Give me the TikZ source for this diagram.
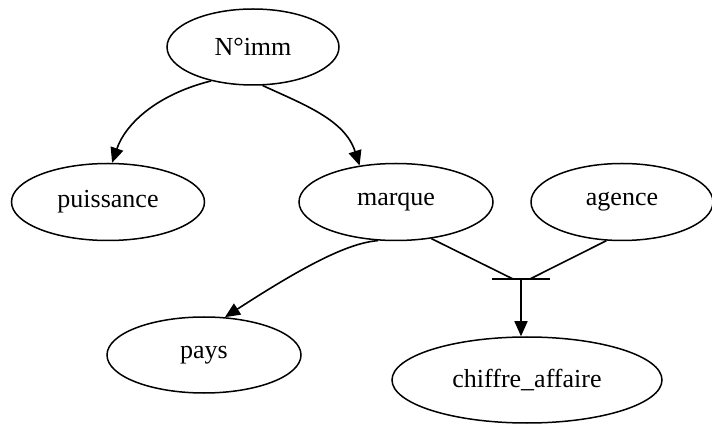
\documentclass[tikz,border=0pt]{standalone}
\usepackage{fontspec}
\setmainfont{Liberation Serif}
\usetikzlibrary{shapes.geometric,arrows.meta}
\begin{document}
\begin{tikzpicture}[x=1pt,y=-1pt,
  ent/.style={draw,ellipse,line width=1.5pt,inner sep=0pt,font=\fontsize{26}{30}\selectfont},
  conn/.style={line width=1.6pt},
  arr/.style={conn,-{Triangle[length=15pt,width=13pt]}}]
\useasboundingbox (0,0) rectangle (712,427);
\node[ent,minimum width=172pt,minimum height=76pt] (nimm) at (253,47) {N°imm};
\node[ent,minimum width=193pt,minimum height=77pt] (puis) at (108,202) {puissance};
\node[ent,minimum width=194pt,minimum height=77pt] (marque) at (396,202) {marque};
\node[ent,minimum width=182pt,minimum height=77pt] (agence) at (622,202) {agence};
\node[ent,minimum width=194pt,minimum height=76pt] (pays) at (204,355) {pays};
\node[ent,minimum width=270pt,minimum height=86pt] (chiffre) at (527,380) {chiffre\_affaire};
\coordinate (j) at (521,279);
\coordinate (jl) at (492,279);
\coordinate (jr) at (550,279);
\coordinate (jla) at (513,279);
\coordinate (jra) at (530,279);
\draw[arr] (nimm.219) .. controls (155,95) and (125,125) .. (puis.84);
\draw[arr] (nimm.284) .. controls (305,105) and (345,120) .. (marque.135);
\draw[arr] (marque.245) .. controls (350,243) and (310,262) .. (pays.61);
\draw[conn] (marque.314) -- (jla);
\draw[conn] (agence.248) -- (jra);
\draw[conn] (jl) -- (jr);
\draw[arr] (j) -- (chiffre.north -| j);
\end{tikzpicture}
\end{document}
